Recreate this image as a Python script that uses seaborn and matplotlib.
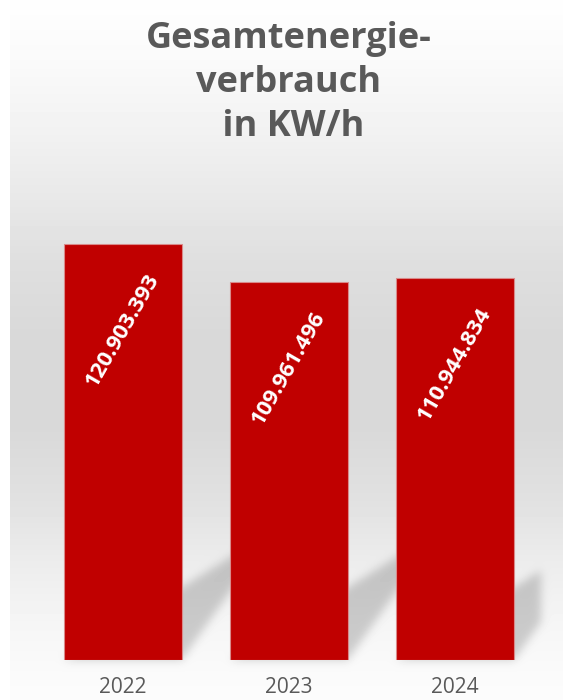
import numpy as np
import pandas as pd
import matplotlib
matplotlib.use("Agg")
import matplotlib.pyplot as plt
import seaborn as sns

# Data
years = ["2022", "2023", "2024"]
verbrauch = [120903393, 109961496, 110944834]
title_lines = ["Gesamtenergie-", "verbrauch", " in KW/h"]

W, H, DPI = 563, 700, 100
BAR_RED = "#C00000"
GREY_TEXT = "#595959"

sns.set_theme(style="white")
plt.rcParams["font.family"] = ["Open Sans", "DejaVu Sans"]

fig = plt.figure(figsize=(W / DPI, H / DPI), dpi=DPI)
fig.patch.set_facecolor("white")

# Backdrop axes (gradient + floor shadows), drawn below the chart
bg_ax = fig.add_axes([0, 0, 1, 1], zorder=0)
bg_ax.set_axis_off()

ax = fig.add_axes([39.5 / W, 40 / H, 498.5 / W, 481.7 / H], zorder=1)
ax.patch.set_alpha(0)

df = pd.DataFrame({"Jahr": years, "Verbrauch": verbrauch})
sns.barplot(data=df, x="Jahr", y="Verbrauch", color=BAR_RED, saturation=1,
            width=0.71, edgecolor="#D98A8A", linewidth=0.8, ax=ax)
ax.set_xlim(-0.5, 2.5)
ax.set_ylim(0, 140e6)
ax.set_xlabel("")
ax.set_ylabel("")
ax.set_yticks([])
sns.despine(ax=ax, left=True, bottom=True)
ax.tick_params(axis="x", length=0, pad=12, labelsize=15, labelcolor=GREY_TEXT)

# Value labels inside the bars, German thousands separator
for i, v in enumerate(verbrauch):
    label = f"{v:,}".replace(",", ".")
    ax.annotate(label, (i, v), xytext=(0, -62), textcoords="offset points",
                ha="center", va="center", rotation=60, rotation_mode="anchor",
                color="white", fontsize=16, fontweight="bold")

# Title, one line at a time
for k, line in enumerate(title_lines):
    fig.text(289 / W, 1 - (48 + 44 * k) / H, line, ha="center", va="baseline",
             fontsize=26, fontweight="bold", color=GREY_TEXT)

# Backdrop: vertical grey gradient with perspective shadows behind the bars
fig.canvas.draw()
rows = np.arange(H)
ctrl_r = [0, 60, 120, 200, 260, 330, 430, 500, 560, 620, 670, 700]
ctrl_v = [254, 250, 243, 232, 223, 217, 217, 225, 236, 245, 250, 252]
grad = np.interp(rows, ctrl_r, ctrl_v)
img = np.repeat(grad[:, None], W, axis=1)

xx, yy = np.meshgrid(np.arange(W) + 0.5, H - 0.5 - np.arange(H))
mask = np.zeros((H, W))
ax_right = ax.get_window_extent().x1 + 3
for p in ax.patches:
    bb = p.get_window_extent()
    wb = bb.x1 - bb.x0
    depth = 0.9 * wb
    t = (yy - bb.y0) / depth
    inside = ((t >= 0) & (t <= 1)
              & (xx >= bb.x0 + t * 1.46 * wb)
              & (xx <= bb.x1 + t * 0.64 * wb)
              & (xx <= ax_right))
    mask = np.maximum(mask, inside.astype(float))


def gauss_blur(a, s):
    n = int(3 * s)
    k = np.exp(-0.5 * (np.arange(-n, n + 1) / s) ** 2)
    k /= k.sum()
    a = np.apply_along_axis(lambda m: np.convolve(m, k, mode="same"), 0, a)
    a = np.apply_along_axis(lambda m: np.convolve(m, k, mode="same"), 1, a)
    return a


mask = gauss_blur(mask, 4.5)
img = img * (1 - 0.18 * mask)
img[:, :10] = 255

bg_ax.imshow(img, cmap="gray", vmin=0, vmax=255, extent=(0, W, 0, H),
             aspect="auto", interpolation="bilinear")
bg_ax.set_xlim(0, W)
bg_ax.set_ylim(0, H)

fig.savefig("out.png", dpi=DPI)
